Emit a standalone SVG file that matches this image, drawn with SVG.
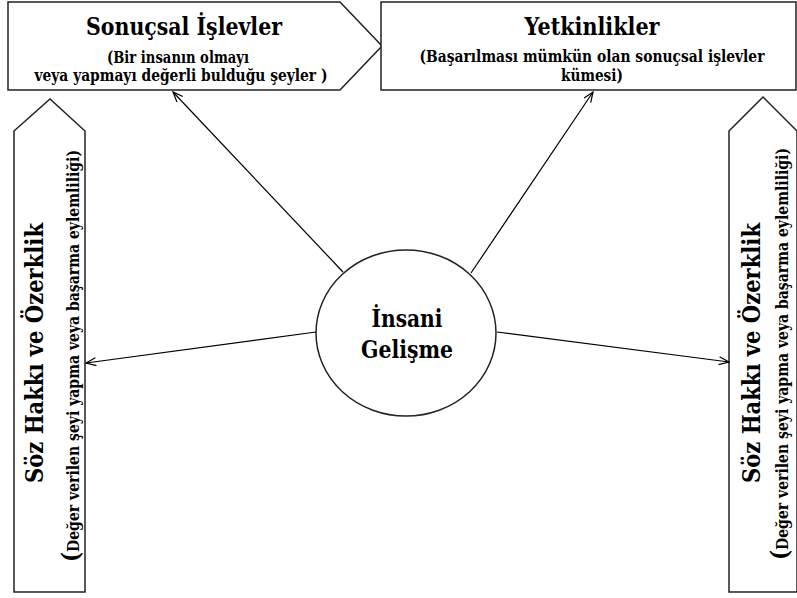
<svg xmlns="http://www.w3.org/2000/svg" width="797" height="598" viewBox="0 0 797 598">
<defs>
<marker id="arr" markerWidth="12" markerHeight="10" refX="11" refY="5" orient="auto" markerUnits="userSpaceOnUse">
<path d="M1,1 L11,5 L1,9" fill="none" stroke="#000" stroke-width="1.2"/>
</marker>
</defs>
<style>
.shape{fill:#fff;stroke:#222;stroke-width:1.5}
.t{font-family:'DejaVu Serif',serif;font-weight:bold;fill:#000;text-anchor:middle}
.big{font-size:25px}
.small{font-size:16.5px}
.conn{stroke:#000;stroke-width:1.2;fill:none}
</style>
<rect width="797" height="598" fill="#fff"/>
<g id="sonucsal">
<polygon class="shape" points="8,2 340,2 382,46 340,90 8,90"/>
<text class="t big" x="184" y="35" textLength="196" lengthAdjust="spacingAndGlyphs">Sonuçsal İşlevler</text>
<text class="t small" x="178" y="63" textLength="142" lengthAdjust="spacingAndGlyphs">(Bir insanın olmayı</text>
<text class="t small" x="181" y="81" textLength="293" lengthAdjust="spacingAndGlyphs">veya yapmayı değerli bulduğu şeyler )</text>
</g>
<g id="yetkinlikler">
<rect class="shape" x="381" y="2" width="415" height="88"/>
<text class="t big" x="592" y="35" textLength="135" lengthAdjust="spacingAndGlyphs">Yetkinlikler</text>
<text class="t small" x="592" y="62" font-size="14.5" textLength="345" lengthAdjust="spacingAndGlyphs">(Başarılması mümkün olan sonuçsal işlevler</text>
<text class="t small" x="592" y="81" textLength="62" lengthAdjust="spacingAndGlyphs">kümesi)</text>
</g>
<g id="soz-left">
<polygon class="shape" points="14,131 50,99 85,131 85,592 14,592"/>
<text class="t big" transform="translate(43,353) rotate(-90)" textLength="260" lengthAdjust="spacingAndGlyphs">Söz Hakkı ve Özerklik</text>
<text class="t small" transform="translate(79,356) rotate(-90)" textLength="412" lengthAdjust="spacingAndGlyphs"><tspan font-size="25">(</tspan>Değer verilen şeyi yapma veya başarma eylemliliği)</text>
</g>
<g id="soz-right">
<polygon class="shape" points="729,131 763,97 797,131 797,592 729,592"/>
<text class="t big" transform="translate(760,353) rotate(-90)" textLength="260" lengthAdjust="spacingAndGlyphs">Söz Hakkı ve Özerklik</text>
<text class="t small" transform="translate(788,354) rotate(-90)" textLength="412" lengthAdjust="spacingAndGlyphs"><tspan font-size="25">(</tspan>Değer verilen şeyi yapma veya başarma eylemliliği)</text>
</g>
<g id="insani">
<ellipse class="shape" cx="406" cy="333" rx="90" ry="83"/>
<text class="t big" x="407" y="327" textLength="71" lengthAdjust="spacingAndGlyphs">İnsani</text>
<text class="t big" x="407" y="358" textLength="92" lengthAdjust="spacingAndGlyphs">Gelişme</text>
</g>
<g id="connectors">
<line class="conn" x1="343" y1="272" x2="173" y2="92" marker-end="url(#arr)"/>
<line class="conn" x1="471" y1="273" x2="593" y2="92" marker-end="url(#arr)"/>
<line class="conn" x1="316" y1="332" x2="86" y2="363" marker-end="url(#arr)"/>
<line class="conn" x1="497" y1="332" x2="729" y2="362" marker-end="url(#arr)"/>
</g>
</svg>
